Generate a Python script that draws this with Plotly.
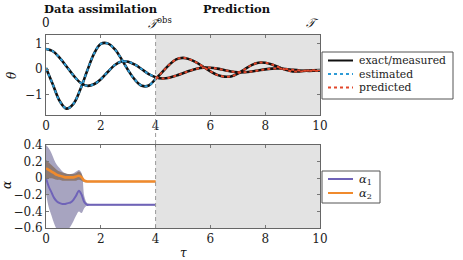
import plotly.graph_objects as go

# ---------------- data ----------------
tau = [i * 0.25 for i in range(41)]
theta_a = [0.05, -0.6, -1.25, -1.55, -1.36, -0.80, -0.07, 0.61, 1.0, 1.02, 0.80, 0.41,
           -0.04, -0.42, -0.65, -0.64, -0.38, -0.10, 0.18, 0.39, 0.45, 0.39, 0.26, 0.09,
           -0.08, -0.22, -0.29, -0.28, -0.17, 0.0, 0.165, 0.26, 0.257, 0.186, 0.079, -0.023,
           -0.085, -0.085, -0.06, -0.04, -0.03]
theta_b = [0.8, 0.71, 0.45, 0.11, -0.24, -0.52, -0.65, -0.59, -0.39, -0.107, 0.157, 0.306,
           0.30, 0.18, 0.0, -0.19, -0.31, -0.36, -0.33, -0.25, -0.155, -0.057, 0.023, 0.066,
           0.063, 0.026, -0.031, -0.085, -0.117, -0.115, -0.088, -0.045, -0.002, 0.025, 0.028, 0.01,
           -0.02, -0.045, -0.06, -0.06, -0.05]
t_obs = 4.0

tau_a = [0.0, 0.1, 0.2, 0.3, 0.4, 0.5, 0.6, 0.7, 0.8, 0.9, 1.0, 1.1, 1.2, 1.3, 1.4, 1.5, 1.6, 2.0, 3.0, 4.0]
alpha1 = [0.0, -0.1, -0.17, -0.24, -0.28, -0.30, -0.31, -0.31, -0.30, -0.29, -0.26, -0.21, -0.15,
          -0.20, -0.29, -0.32, -0.32, -0.32, -0.32, -0.32]
alpha1_hi = [0.40, 0.36, 0.30, 0.22, 0.16, 0.12, 0.08, 0.06, 0.05, 0.05, 0.06, 0.08, 0.10,
             0.06, -0.22, -0.30, -0.31, -0.31, -0.31, -0.31]
alpha1_lo = [-0.18, -0.35, -0.45, -0.55, -0.62, -0.66, -0.66, -0.65, -0.62, -0.58, -0.52, -0.45,
             -0.40, -0.42, -0.36, -0.33, -0.33, -0.33, -0.33, -0.33]
alpha2 = [0.12, 0.10, 0.08, 0.06, 0.04, 0.03, 0.02, 0.01, 0.01, 0.01, 0.01, 0.02, 0.03,
          0.01, -0.03, -0.04, -0.04, -0.04, -0.04, -0.04]
alpha2_hi = [0.22, 0.19, 0.16, 0.13, 0.10, 0.08, 0.07, 0.06, 0.05, 0.05, 0.05, 0.06, 0.08,
             0.05, -0.02, -0.03, -0.03, -0.03, -0.03, -0.03]
alpha2_lo = [0.0, 0.0, 0.0, -0.01, -0.02, -0.02, -0.03, -0.03, -0.03, -0.03, -0.03, -0.03, -0.02,
             -0.03, -0.05, -0.05, -0.05, -0.05, -0.05, -0.05]

x_ticks = [0, 2, 4, 6, 8, 10]

# ---------------- style ----------------
BLACK = "#111111"
BLUE = "#2e9bd6"
RED = "#e2472b"
PURPLE = "#6f63b8"
ORANGE = "#f08a2c"
SERIF = "DejaVu Serif"

L, R, T, B = 46, 320, 35, 228
W, H = 463, 260
PH = B - T
PW = R - L


def px(x):
    return (x - L) / PW


def py(y):
    return (B - y) / PH


fig = go.Figure()

obs_idx = [i for i, t in enumerate(tau) if t <= t_obs]
pred_idx = [i for i, t in enumerate(tau) if t >= t_obs]

for series in (theta_a, theta_b):
    fig.add_trace(go.Scatter(x=tau, y=series, mode="lines", line=dict(color=BLACK, width=2.6, shape="spline"),
                             xaxis="x", yaxis="y", showlegend=False))
for series in (theta_a, theta_b):
    fig.add_trace(go.Scatter(x=[tau[i] for i in obs_idx], y=[series[i] for i in obs_idx], mode="lines",
                             line=dict(color=BLUE, width=2, dash="3px,3px", shape="spline"),
                             xaxis="x", yaxis="y", showlegend=False))
    fig.add_trace(go.Scatter(x=[tau[i] for i in pred_idx], y=[series[i] for i in pred_idx], mode="lines",
                             line=dict(color=RED, width=2, dash="3px,3px", shape="spline"),
                             xaxis="x", yaxis="y", showlegend=False))

# alpha bands
fig.add_trace(go.Scatter(x=tau_a, y=alpha1_hi, mode="lines", line=dict(width=0, shape="spline"),
                         xaxis="x2", yaxis="y2", showlegend=False, hoverinfo="skip"))
fig.add_trace(go.Scatter(x=tau_a, y=alpha1_lo, mode="lines", line=dict(width=0, shape="spline"),
                         fill="tonexty", fillcolor="rgba(95,90,140,0.55)",
                         xaxis="x2", yaxis="y2", showlegend=False, hoverinfo="skip"))
fig.add_trace(go.Scatter(x=tau_a, y=alpha2_hi, mode="lines", line=dict(width=0, shape="spline"),
                         xaxis="x2", yaxis="y2", showlegend=False, hoverinfo="skip"))
fig.add_trace(go.Scatter(x=tau_a, y=alpha2_lo, mode="lines", line=dict(width=0, shape="spline"),
                         fill="tonexty", fillcolor="rgba(120,85,50,0.55)",
                         xaxis="x2", yaxis="y2", showlegend=False, hoverinfo="skip"))
fig.add_trace(go.Scatter(x=tau_a, y=alpha1, mode="lines", line=dict(color=PURPLE, width=2, shape="spline"),
                         xaxis="x2", yaxis="y2", showlegend=False))
fig.add_trace(go.Scatter(x=tau_a, y=alpha2, mode="lines", line=dict(color=ORANGE, width=2.6, shape="spline"),
                         xaxis="x2", yaxis="y2", showlegend=False))

axis_common = dict(showline=True, linecolor="#666666", linewidth=1, mirror="ticks", ticks="inside",
                   ticklen=3, tickcolor="#777777", showgrid=False, zeroline=False,
                   tickfont=dict(family=SERIF, size=12, color="#222222"))

top_dom = [py(115), 1.0]
bot_dom = [0.0, py(145)]

fig.update_layout(
    width=W, height=H,
    margin=dict(l=L, r=W - R, t=T, b=H - B),
    plot_bgcolor="white", paper_bgcolor="white",
    font=dict(family=SERIF),
    xaxis=dict(domain=[0, 1], range=[0, 10], tickvals=x_ticks, anchor="y", **axis_common),
    yaxis=dict(domain=top_dom, range=[-1.8, 1.35], tickvals=[-1, 0, 1], anchor="x", **axis_common),
    xaxis2=dict(domain=[0, 1], range=[0, 10], tickvals=x_ticks, anchor="y2", **axis_common),
    yaxis2=dict(domain=bot_dom, range=[-0.6, 0.4], dtick=0.2, tick0=0, anchor="x2", **axis_common),
)

shapes = []
for yr in ("y domain", "y2 domain"):
    xr = "x" if yr == "y domain" else "x2"
    shapes.append(dict(type="rect", xref=xr, yref=yr, x0=t_obs, x1=10, y0=0, y1=1,
                       fillcolor="#e3e3e3", line=dict(width=0), layer="below"))
shapes.append(dict(type="line", xref="x", yref="paper", x0=t_obs, x1=t_obs, y0=0, y1=1,
                   line=dict(color="#9a9a9a", width=1, dash="4px,3px")))

# manual legends
shapes.append(dict(type="rect", xref="paper", yref="paper", x0=px(322), x1=px(453), y0=py(99), y1=py(52),
                   fillcolor="white", line=dict(color="#555555", width=1)))
shapes.append(dict(type="rect", xref="paper", yref="paper", x0=px(322), x1=px(380), y0=py(203), y1=py(171),
                   fillcolor="white", line=dict(color="#555555", width=1)))

leg1 = [("exact/measured", BLACK, None, 60.5), ("estimated", BLUE, "3px,3px", 74), ("predicted", RED, "3px,3px", 87.5)]
leg2 = [("<i>α</i><sub>1</sub>", PURPLE, None, 179), ("<i>α</i><sub>2</sub>", ORANGE, None, 193)]
annotations = []
for i, (text, col, dash, yy) in enumerate(leg1 + leg2):
    ln = dict(color=col, width=2)
    if dash:
        ln["dash"] = dash
    shapes.append(dict(type="line", xref="paper", yref="paper", x0=px(328), x1=px(353), y0=py(yy), y1=py(yy), line=ln))
    annotations.append(dict(xref="paper", yref="paper", x=px(357), y=py(yy), text=text, showarrow=False,
                            xanchor="left", yanchor="middle",
                            font=dict(family=SERIF, size=10.8 if i < 3 else 11.5, color="#222")))

def ann(x, y, text, size=12, xanchor="center", bold=False, angle=0):
    annotations.append(dict(xref="paper", yref="paper", x=px(x), y=py(y), text=f"<b>{text}</b>" if bold else text,
                            showarrow=False, xanchor=xanchor, yanchor="middle", textangle=angle,
                            font=dict(family=SERIF, size=size, color="#111")))

ann(101, 9, "Data assimilation", size=11.5, bold=True)
ann(237, 9, "Prediction", size=11.5, bold=True)
ann(46, 23, "0", size=12)
ann(146, 23, "<i>𝒯</i><sup>obs</sup>", size=12, xanchor="left")
ann(321, 23, "<i>𝒯</i>", size=12, xanchor="right")
ann(12, 75, "<i>θ</i>", size=12, angle=-90)
ann(7, 185, "<i>α</i>", size=12, angle=-90)
ann(183, 253, "<i>τ</i>", size=12)

fig.update_layout(shapes=shapes, annotations=annotations)
fig.write_html("out.html")
